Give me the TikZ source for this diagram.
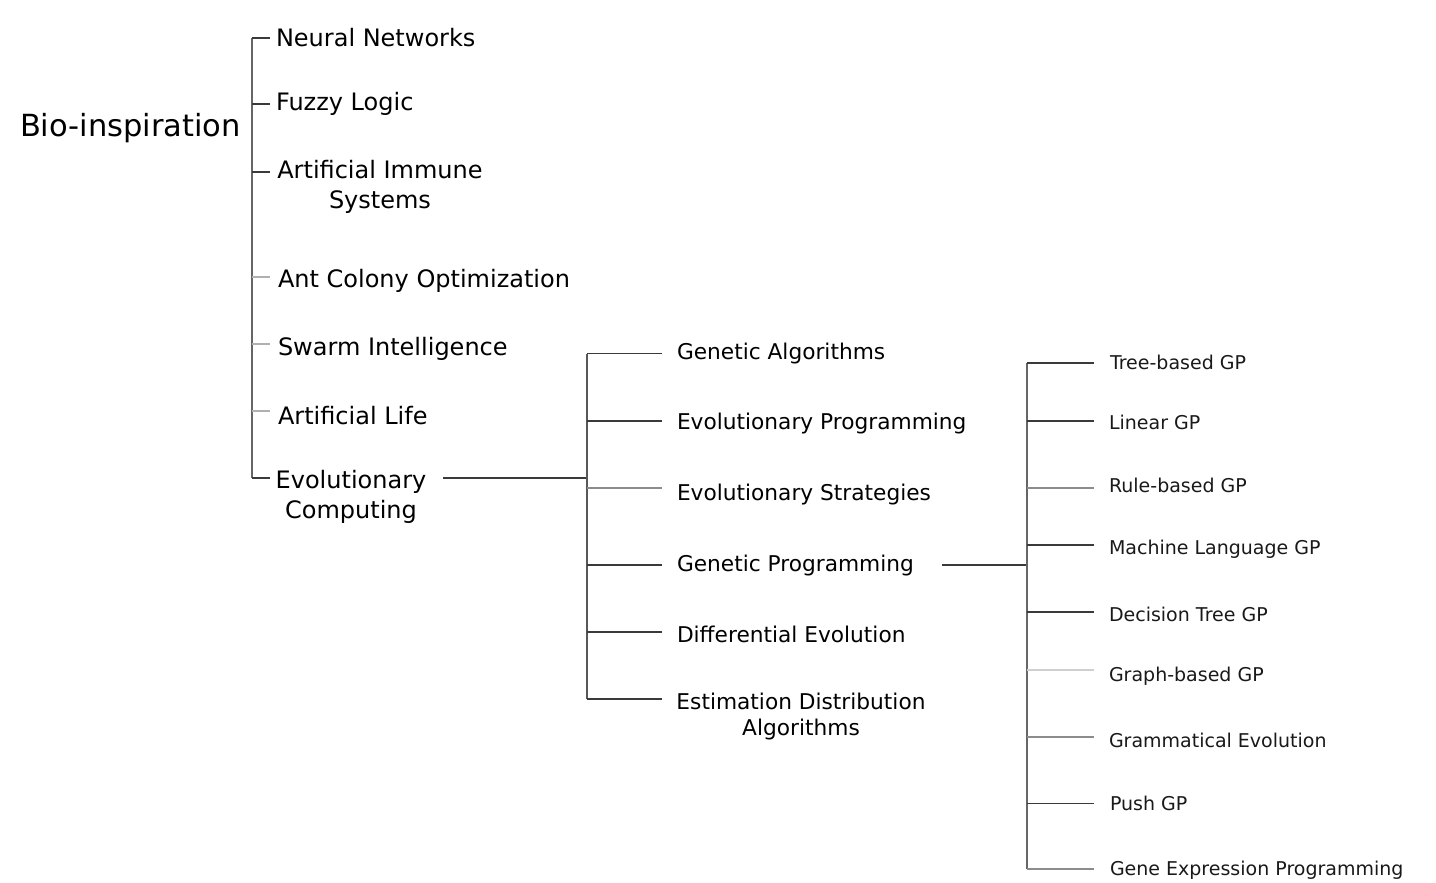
\documentclass[tikz,border=0pt]{standalone}
\usepackage{fontspec}
\setmainfont{DejaVu Sans}
\definecolor{ldark}{HTML}{3A3A3A}
\definecolor{lspine}{HTML}{666666}
\definecolor{lmid}{HTML}{8C8C8C}
\definecolor{llight}{HTML}{B0B0B0}
\definecolor{lfaint}{HTML}{CFCFCF}
\begin{document}
\begin{tikzpicture}[x=1pt,y=-1pt,
  lab/.style={inner sep=0pt,outer sep=0pt,anchor=base west},
  labc/.style={inner sep=0pt,outer sep=0pt,anchor=base,align=center},
  rootf/.style={font=\fontsize{30.5}{36}\selectfont},
  fone/.style={font=\fontsize{24}{30}\selectfont},
  ftwo/.style={font=\fontsize{21.7}{25.5}\selectfont},
  fthree/.style={font=\fontsize{19}{23}\selectfont, text=black!90},
  conn/.style={line width=1.4pt, color=ldark},
  spine/.style={line width=1.4pt, color=lspine},
  tickd/.style={line width=1.4pt, color=ldark},
  tickm/.style={line width=1.4pt, color=lmid},
  tickl/.style={line width=1.4pt, color=llight},
  tickf/.style={line width=1.4pt, color=lfaint}]
\useasboundingbox (0,0) rectangle (1436,883);

% ---- root
\node[lab,rootf] (root) at (20,136) {Bio-inspiration};

% ---- level 1
\node[lab,fone] (nn) at (276,46.5) {Neural Networks};
\node[lab,fone] (fl) at (276,110.5) {Fuzzy Logic};
\node[labc,fone] (ais) at (380,208.75) {Artificial Immune\\Systems};
\node[lab,fone] (aco) at (278,287) {Ant Colony Optimization};
\node[lab,fone] (si) at (278,355.5) {Swarm Intelligence};
\node[lab,fone] (al) at (278,424.7) {Artificial Life};
\node[labc,fone] (ec) at (351,518.75) {Evolutionary\\Computing};

\coordinate (s1top) at (252,38);
\coordinate (s1bot) at (252,478);
\draw[spine] (s1top) -- (s1bot);
\foreach \y/\n/\st in {38/a/tickd,104/b/tickd,172/c/tickd,277/d/tickl,344/e/tickl,411/f/tickl,478/g/tickd}{
  \coordinate (t1s\n) at (252,\y);
  \coordinate (t1e\n) at (270,\y);
  \draw[\st] (t1s\n) -- (t1e\n);
}

% ---- level 2
\node[lab,ftwo] (ga) at (677,359.6) {Genetic Algorithms};
\node[lab,ftwo] (ep) at (677,429.6) {Evolutionary Programming};
\node[lab,ftwo] (es) at (677,500.9) {Evolutionary Strategies};
\node[lab,ftwo] (gp) at (677,571) {Genetic Programming};
\node[lab,ftwo] (de) at (677,642) {Differential Evolution};
\node[labc,ftwo] (eda) at (801,735) {Estimation Distribution\\Algorithms};

\coordinate (ecout) at (443,478);
\coordinate (s2mid) at (587,478);
\draw[conn] (ecout) -- (s2mid);
\coordinate (s2top) at (587,353.5);
\coordinate (s2bot) at (587,699);
\draw[spine,color=ldark!85] (s2top) -- (s2bot);
\foreach \y/\n/\st in {353.5/a/tickd,421/b/tickd,488/c/tickm,565/d/tickd,632/e/tickd,699/f/tickd}{
  \coordinate (t2s\n) at (587,\y);
  \coordinate (t2e\n) at (662,\y);
  \draw[\st] (t2s\n) -- (t2e\n);
}

% ---- level 3
\node[lab,fthree] (tb) at (1110,369) {Tree-based GP};
\node[lab,fthree] (lin) at (1109,429.9) {Linear GP};
\node[lab,fthree] (rb) at (1109,492) {Rule-based GP};
\node[lab,fthree] (ml) at (1109,554) {Machine Language GP};
\node[lab,fthree] (dt) at (1109,621) {Decision Tree GP};
\node[lab,fthree] (gb) at (1109,681.5) {Graph-based GP};
\node[lab,fthree] (ge) at (1109,747) {Grammatical Evolution};
\node[lab,fthree] (pu) at (1110,810) {Push GP};
\node[lab,fthree] (gep) at (1110,875) {Gene Expression Programming};

\coordinate (gpout) at (942,565);
\coordinate (s3mid) at (1027,565);
\draw[conn] (gpout) -- (s3mid);
\coordinate (s3top) at (1027,363);
\coordinate (s3bot) at (1027,869);
\draw[spine] (s3top) -- (s3bot);
\foreach \y/\n/\st in {363/a/tickd,421/b/tickd,488/c/tickm,545/d/tickd,612/e/tickd,670/f/tickf,737/g/tickm,803.5/h/tickd,869/i/tickm}{
  \coordinate (t3s\n) at (1027,\y);
  \coordinate (t3e\n) at (1094,\y);
  \draw[\st] (t3s\n) -- (t3e\n);
}
\end{tikzpicture}
\end{document}
